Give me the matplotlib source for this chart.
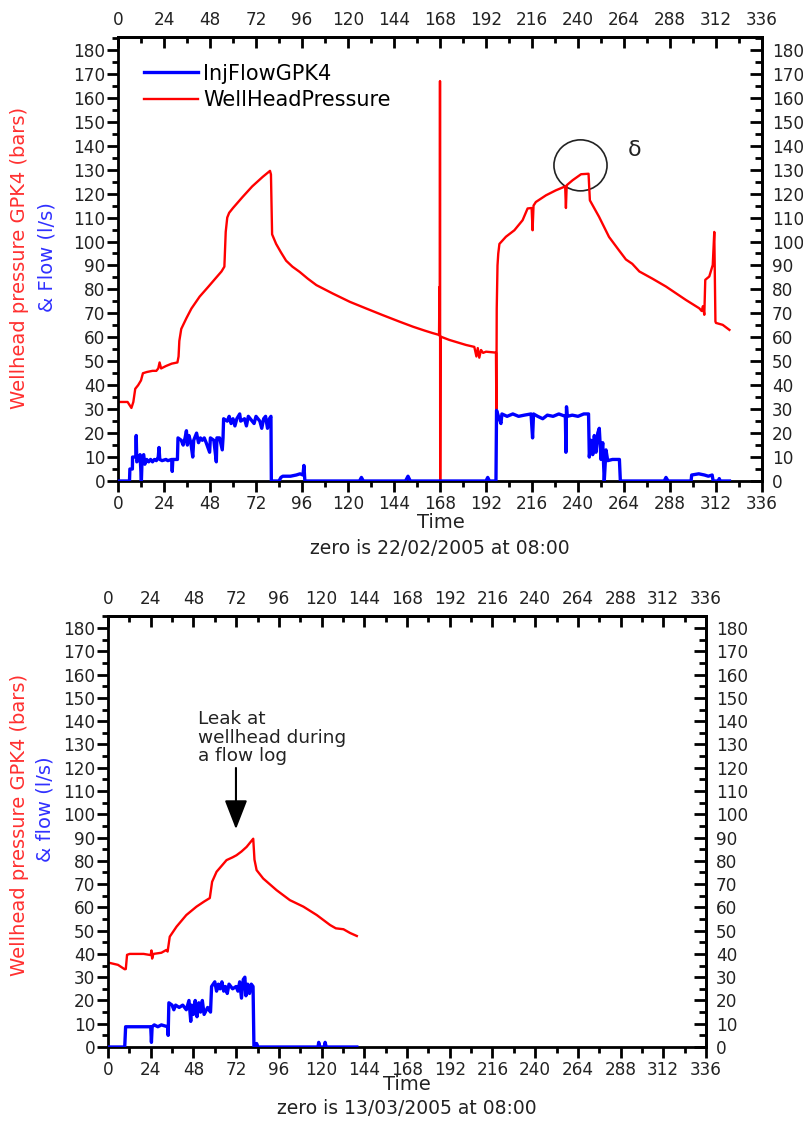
import numpy as np
import matplotlib
matplotlib.use("Agg")
import matplotlib.pyplot as plt
from matplotlib.patches import Ellipse
from matplotlib.ticker import MultipleLocator

plt.rcParams['font.family'] = ['DejaVu Sans']

# ---- panel 1 : zero is 22/02/2005 at 08:00 ----
t_p1 = [0, 5, 7, 8, 9, 10.5, 12, 13, 15, 18, 20, 21, 21.7, 22.5, 25, 28, 31, 31.6, 32, 33,
        35.7, 38.3, 42.6, 47, 51.3, 54, 55.5, 56.2, 57, 58, 60, 65, 70, 75.5, 79.3, 79.8,
        80.4, 82.5, 85, 87.7, 91, 94.8, 99, 103.5, 112, 121, 129.6, 138, 147, 154, 160, 164,
        167.5, 167.7, 167.9, 168, 168.1, 168.3, 172.9, 181.6, 185.9, 187, 187.7, 188.5, 189.4,
        190.5, 192, 197.2, 197.4, 197.6, 198, 198.4, 199, 202.4, 206.8, 211.1, 213.7, 215.8,
        216.3, 216.8, 218, 223.3, 228.5, 233.3, 233.7, 234.1, 237.2, 241.6, 245.5, 246.2,
        251, 256.2, 261.4, 265, 268.3, 272, 278.8, 285.9, 296.3, 303.3, 304.5, 305.2, 305.9,
        306.4, 308.5, 310.3, 311.1, 311.7, 312, 315.5, 319]
p1 = [33, 33, 30.5, 33, 38.5, 40, 42, 45, 45.5, 46, 46, 47, 49.5, 47, 48, 49, 49.5, 52, 58.5, 63.5,
      68, 72, 77, 81, 85, 87.5, 89.5, 104, 110, 112, 114, 118.6, 123, 127, 129.5, 128,
      103, 99, 95.5, 92, 89.5, 87.3, 84.5, 81.8, 78.3, 74.8, 72, 69.3, 66.5, 64.4, 62.8, 61.8,
      61, 81, 60.5, 167, 0, 60.3, 58.9, 56.8, 56, 52, 55.5, 51.5, 54.7,
      53.5, 54, 53.6, 30, 72, 90, 95, 99, 102, 104.7, 108.9, 113.8, 114,
      104.7, 115, 116.5, 119.3, 121.4, 123, 114, 123.5, 125.6, 128.1, 128.3, 117.2,
      110.3, 101.9, 96.3, 92.5, 90.7, 87.5, 84.5, 81.2, 75.6, 72.1, 71, 73, 69.4,
      84, 85.4, 90.2, 104, 66.6, 66, 65.2, 63.1]

t_f1 = [0, 6, 6.2, 7.5, 7.6, 9.3, 9.5, 9.8, 11, 11.5, 12.2, 12.6, 13.4, 14, 15, 16, 17, 18, 19, 20,
        21, 21.4, 21.8, 23, 25, 26, 28, 28.3, 28.6, 30.4, 31, 31.3, 33, 34, 35, 35.7, 36.2, 37, 38,
        39, 39.5, 41, 42, 43, 44, 45, 46, 47.8, 48.2, 50, 51.3, 51.6, 53, 54.4, 54.8, 55.1, 57, 58,
        59, 60, 61, 62, 63.5, 64, 66, 67, 68, 70, 71, 72, 74, 75, 76, 77, 78, 79, 79.8, 80, 84, 85,
        86, 90, 93, 95, 96.5, 97, 97.5, 126, 127, 128, 150, 151.3, 152.5, 192, 192.9, 193.8, 197.2,
        197.5, 198.5, 199.8, 200.3, 203, 206, 209, 212, 215.5, 216.3, 216.8, 219, 221.6, 224, 227,
        230, 233.4, 233.7, 234, 234.4, 237, 240, 243, 245.5, 245.9, 246.8, 247.7, 248.5, 249.4,
        250.3, 251.1, 252, 252.9, 253.7, 254.6, 255.5, 258, 261.6, 262.1, 285, 285.9, 287, 299,
        299.3, 303, 306, 308, 310, 310.5, 313.2, 313.7, 314.2, 319]
f1 = [0, 0, 5, 5, 10, 10, 19, 8, 9, 11, 0, 10, 11, 7, 9, 8, 9, 8, 9, 8.5,
      10, 14, 9, 8.5, 9, 8.5, 9, 4, 9, 9, 9, 18, 17, 15, 18, 21, 15, 19, 16,
      10, 17, 20, 16, 18, 17, 18, 16, 12, 18, 17, 8, 18, 18, 13, 18, 26, 25, 27,
      24, 26, 23, 26, 28, 25, 26, 23, 27, 25, 24, 27, 25, 22, 26, 27, 22, 26, 27, 0, 0, 1.5,
      2, 2, 2.5, 3, 2.5, 6.5, 0, 0, 1.5, 0, 0, 2, 0, 0, 1.5, 0, 0,
      29.5, 27, 24, 28, 27, 28, 27, 27.5, 28, 18, 28, 27, 26, 27.5, 27,
      28, 27, 12, 31, 27, 27.5, 27, 28, 28, 10, 17, 11, 19, 12,
      20, 22, 9, 16, 0, 13, 8.5, 9, 9, 0, 0, 1.5, 0, 0,
      2.5, 3, 2.5, 2, 2.5, 0, 0, 1, 0, 0]

# ---- panel 2 : zero is 13/03/2005 at 08:00 ----
t_p2 = [0, 5.6, 9.4, 10, 10.7, 12.2, 20, 24, 24.4, 24.8, 25.5, 30, 32.8, 33.5, 34.7, 38.5, 44,
        49.7, 54, 57.2, 58.5, 61, 66.6, 70, 72.2, 75, 77.9, 81.6, 82.3, 83.5, 87.2, 94.7, 102.2,
        109.8, 117.3, 124.8, 128, 132.3, 136, 139.8]
p2 = [36.3, 35.3, 33.4, 33.5, 39.6, 40, 40, 39.5, 41.5, 38, 40, 40.5, 41.7, 41, 47.4, 51.7, 56.7,
      60.3, 62.5, 64, 71, 75.3, 80.3, 81.5, 82.4, 84, 86, 89.5, 80.5, 76, 72.4, 67.4, 63.1,
      60.3, 56.7, 52.4, 51, 50.6, 49, 47.7]

t_f2 = [0, 9.4, 9.9, 24, 24.4, 24.8, 26, 28, 30, 33.5, 33.8, 34.2, 36, 37, 38, 40, 42, 44, 45.5,
        46.5, 47, 48, 49, 50, 51, 52, 53, 54, 56, 57.6, 58.2, 60, 61, 62, 63, 64, 65, 66, 67, 68,
        70, 72, 73, 74, 75, 76, 76.9, 77.5, 78.5, 79.5, 80.5, 81.5, 82, 83, 83.5, 84.2, 118,
        118.4, 119, 121.5, 122, 122.6, 139.8]
f2 = [0, 0, 8.7, 8.7, 2, 8.7, 9.5, 8.7, 9.5, 8.7, 5, 19, 18, 16, 18, 17, 18, 16, 20,
      11, 18, 14, 20, 13, 19, 15, 20, 14, 17, 15, 26, 28, 24, 27, 25, 28, 24, 26, 23, 27,
      25, 26, 24, 28, 21, 29, 30, 22, 27, 23, 27, 26, 0, 0, 1.5, 0, 0,
      2, 0, 0, 2, 0, 0]

red = '#ff0000'
blue = '#0000ff'
tick_fs = 12.2


def style(ax, ymax):
    ax.set_xlim(0, 336)
    ax.set_ylim(0, ymax)
    for s in ax.spines.values():
        s.set_linewidth(2)
    ax.xaxis.set_major_locator(MultipleLocator(24))
    ax.xaxis.set_minor_locator(MultipleLocator(12))
    ax.set_yticks(np.arange(0, 181, 10))
    ax.yaxis.set_minor_locator(MultipleLocator(5))
    ax.tick_params(which='both', direction='out', width=2, labelsize=tick_fs,
                   labelcolor='#222222', pad=2)
    ax.tick_params(which='major', length=8)
    ax.tick_params(which='minor', length=4)
    ax.tick_params(axis='y', pad=1)

    top = ax.secondary_xaxis('top')
    top.xaxis.set_major_locator(MultipleLocator(24))
    top.xaxis.set_minor_locator(MultipleLocator(12))
    top.tick_params(which='both', direction='in', width=2, labelsize=tick_fs,
                    labelcolor='#222222', pad=6)
    top.tick_params(which='major', length=8)
    top.tick_params(which='minor', length=4)
    top.spines['top'].set_linewidth(2)

    right = ax.secondary_yaxis('right')
    right.set_yticks(np.arange(0, 181, 10))
    right.yaxis.set_minor_locator(MultipleLocator(5))
    right.tick_params(which='both', direction='in', width=2, labelsize=tick_fs,
                      labelcolor='#222222', pad=7)
    right.tick_params(which='major', length=9)
    right.tick_params(which='minor', length=5)
    right.spines['right'].set_linewidth(2)


fig = plt.figure(figsize=(8.04, 11.22), dpi=100)

# top panel
ax1 = fig.add_axes([118 / 804, 1 - 481 / 1122, 644 / 804, 444 / 1122])
ax1.plot(t_f1, f1, color=blue, lw=2.4, label='InjFlowGPK4', zorder=3)
ax1.plot(t_p1, p1, color=red, lw=1.7, label='WellHeadPressure', zorder=2)
style(ax1, 185.4)
ax1.legend(loc='upper left', bbox_to_anchor=(0.04, 0.94), frameon=False,
           fontsize=15, handlelength=2.6, handletextpad=0.25, labelspacing=0.3,
           borderpad=0, borderaxespad=0)
ax1.add_patch(Ellipse((241.3, 131.8), 27.7, 21.3, fill=False, ec='#222222', lw=1.2))
ax1.text(269.7, 138.3, 'δ', fontsize=16, ha='center', va='center', color='#222222')

fig.text(20 / 804, 1 - 258 / 1122, 'Wellhead pressure GPK4 (bars)', rotation=90,
         color='#ff3030', fontsize=14, ha='center', va='center')
fig.text(47 / 804, 1 - 257 / 1122, '& Flow (l/s)', rotation=90,
         color='#3030ff', fontsize=14, ha='center', va='center')
fig.text(441 / 804, 1 - 523 / 1122, 'Time', fontsize=14, ha='center', va='center',
         color='#222222')
fig.text(440 / 804, 1 - 548 / 1122, 'zero is 22/02/2005 at 08:00', fontsize=13.5,
         ha='center', va='center', color='#222222')

# bottom panel
ax2 = fig.add_axes([108 / 804, 1 - 1047 / 1122, 598 / 804, 431 / 1122])
ax2.plot(t_f2, f2, color=blue, lw=2.4, zorder=3)
ax2.plot(t_p2, p2, color=red, lw=1.7, zorder=2)
style(ax2, 185.2)
ax2.text(50.6, 144.8, 'Leak at\nwellhead during\na flow log', fontsize=13.3,
         ha='left', va='top', linespacing=1.05, color='#222222')
ax2.annotate('', xy=(71.9, 92.4), xytext=(71.9, 121.1),
             arrowprops=dict(arrowstyle='-|>,head_width=0.35,head_length=0.9',
                             color='black', lw=1.5, mutation_scale=20))

fig.text(20 / 804, 1 - 825 / 1122, 'Wellhead pressure GPK4 (bars)', rotation=90,
         color='#ff3030', fontsize=14, ha='center', va='center')
fig.text(45 / 804, 1 - 809 / 1122, '& flow (l/s)', rotation=90,
         color='#3030ff', fontsize=14, ha='center', va='center')
fig.text(407 / 804, 1 - 1085 / 1122, 'Time', fontsize=14, ha='center', va='center',
         color='#222222')
fig.text(407 / 804, 1 - 1108 / 1122, 'zero is 13/03/2005 at 08:00', fontsize=13.5,
         ha='center', va='center', color='#222222')

fig.savefig('out.png', dpi=100)
